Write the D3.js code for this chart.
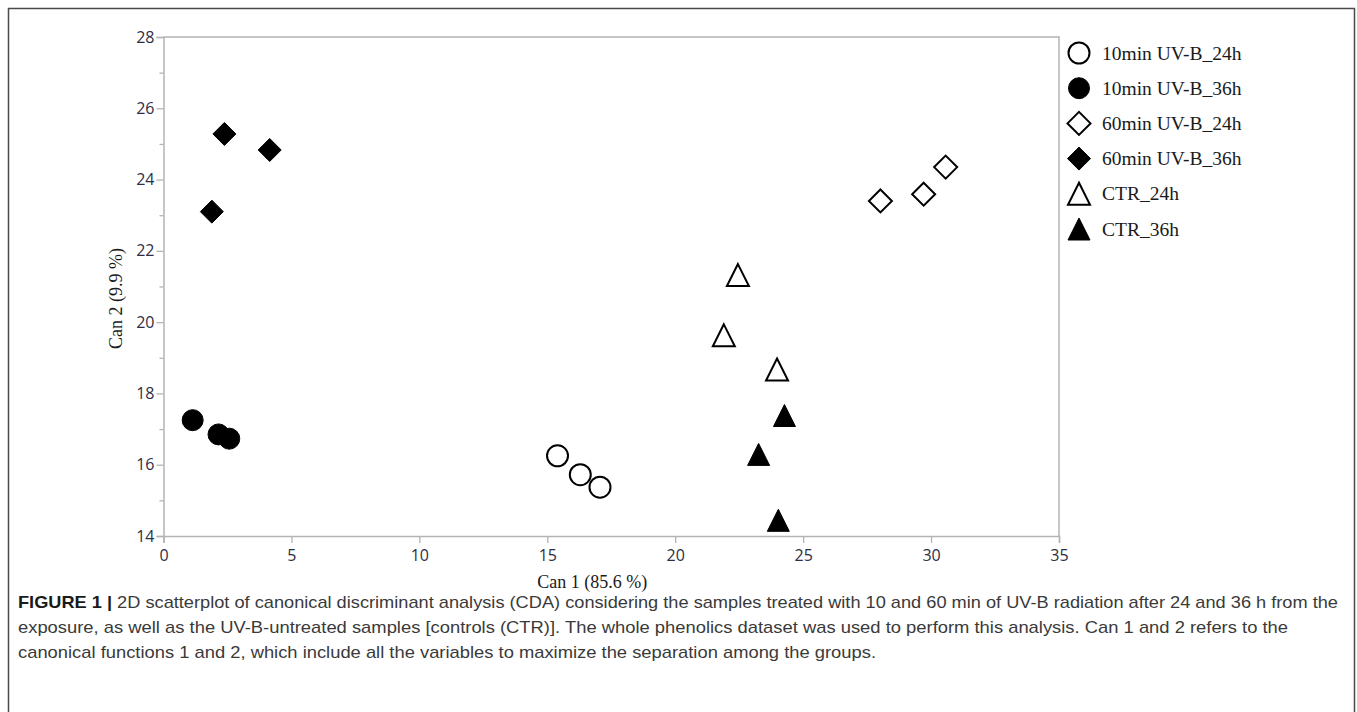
<!DOCTYPE html>
<html>
<head>
<meta charset="utf-8">
<script src="https://cdn.jsdelivr.net/npm/d3@7"></script>
<style>
  html, body { margin: 0; padding: 0; background: #fff; }
  svg { display: block; }
</style>
</head>
<body>
<svg id="fig" width="1357" height="712"></svg>
<script>
// Group names and their marker styles (shape, filled)
const groups = ["10min UV-B_24h", "10min UV-B_36h", "60min UV-B_24h", "60min UV-B_36h", "CTR_24h", "CTR_36h"];
const shapes = ["circle", "circle", "diamond", "diamond", "triangle", "triangle"];
const filled = [false, true, false, true, false, true];

// Canonical scores per group: Can 1 (x) and Can 2 (y)
const can1_10min_24h = [15.40, 16.29, 17.06];
const can2_10min_24h = [16.25, 15.72, 15.37];
const can1_10min_36h = [1.14, 2.15, 2.57];
const can2_10min_36h = [17.25, 16.85, 16.73];
const can1_60min_24h = [28.02, 29.71, 30.57];
const can2_60min_24h = [23.40, 23.59, 24.35];
const can1_60min_36h = [2.38, 4.15, 1.89];
const can2_60min_36h = [25.28, 24.83, 23.10];
const can1_ctr_24h = [22.45, 21.90, 23.98];
const can2_ctr_24h = [21.32, 19.63, 18.67];
const can1_ctr_36h = [24.27, 23.26, 24.03];
const can2_ctr_36h = [17.38, 16.29, 14.44];

const xTicks = [0, 5, 10, 15, 20, 25, 30, 35];
const yTicks = [14, 16, 18, 20, 22, 24, 26, 28];
const yMinorTicks = [15, 17, 19, 21, 23, 25, 27];

const xTitle = "Can 1 (85.6 %)";
const yTitle = "Can 2 (9.9 %)";

const captionLines = [
  ["FIGURE 1 | ", "2D scatterplot of canonical discriminant analysis (CDA) considering the samples treated with 10 and 60 min of UV-B radiation after 24 and 36 h from the"],
  ["", "exposure, as well as the UV-B-untreated samples [controls (CTR)]. The whole phenolics dataset was used to perform this analysis. Can 1 and 2 refers to the"],
  ["", "canonical functions 1 and 2, which include all the variables to maximize the separation among the groups."]
];

const seriesX = [can1_10min_24h, can1_10min_36h, can1_60min_24h, can1_60min_36h, can1_ctr_24h, can1_ctr_36h];
const seriesY = [can2_10min_24h, can2_10min_36h, can2_60min_24h, can2_60min_36h, can2_ctr_24h, can2_ctr_36h];

const svg = d3.select("#fig");

// Outer figure frame
svg.append("path")
  .attr("d", "M8.5,720 L8.5,8.5 L1354.5,8.5 L1354.5,720")
  .attr("fill", "none")
  .attr("stroke", "#4a4a4a")
  .attr("stroke-width", 1.5);

const plot = { left: 163.5, right: 1059, top: 37, bottom: 536 };

const x = d3.scaleLinear().domain([0, 35]).range([plot.left, plot.right]);
const y = d3.scaleLinear().domain([14, 28]).range([plot.bottom, plot.top]);

const axisColor = "#b4b4b4";
const tickTextColor = "#2e2e44";

// Plot frame (top and right edges)
svg.append("path")
  .attr("d", `M${plot.left},${plot.top} L${plot.right},${plot.top} L${plot.right},${plot.bottom}`)
  .attr("fill", "none")
  .attr("stroke", axisColor)
  .attr("stroke-width", 1.5);

// X axis
svg.append("g")
  .attr("transform", `translate(0,${plot.bottom})`)
  .call(d3.axisBottom(x).tickValues(xTicks).tickSize(7).tickPadding(7).tickFormat(d3.format("d")));
// Y axis
svg.append("g")
  .attr("transform", `translate(${plot.left},0)`)
  .call(d3.axisLeft(y).tickValues(yTicks).tickSize(7).tickPadding(2).tickFormat(d3.format("d")));
// Y minor ticks
svg.append("g")
  .attr("transform", `translate(${plot.left},0)`)
  .call(d3.axisLeft(y).tickValues(yMinorTicks).tickSize(4).tickFormat(""))
  .call(g => g.select(".domain").remove());

svg.selectAll(".domain").attr("stroke", axisColor).attr("stroke-width", 1.5);
svg.selectAll(".tick line").attr("stroke", axisColor).attr("stroke-width", 1.3);
svg.selectAll(".tick text")
  .attr("fill", tickTextColor)
  .attr("font-family", "'Open Sans', 'Noto Sans', sans-serif")
  .attr("font-size", 16);

// Axis titles
svg.append("text")
  .attr("x", (plot.left + plot.right) / 2 - 19)
  .attr("y", 588)
  .attr("text-anchor", "middle")
  .attr("font-family", "'Liberation Serif', 'Times New Roman', serif")
  .attr("font-size", 18)
  .attr("fill", "#1a1a1a")
  .text(xTitle);

svg.append("text")
  .attr("transform", `translate(122,${(plot.top + plot.bottom) / 2 + 12}) rotate(-90)`)
  .attr("text-anchor", "middle")
  .attr("font-family", "'Liberation Serif', 'Times New Roman', serif")
  .attr("font-size", 18)
  .attr("fill", "#1a1a1a")
  .text(yTitle);

// Marker path generators, centred on (0,0)
function markerPath(shape) {
  if (shape === "circle") {
    const r = 10.5;
    return `M${r},0 A${r},${r} 0 1,1 ${-r},0 A${r},${r} 0 1,1 ${r},0 Z`;
  }
  if (shape === "diamond") {
    const h = 11.5;
    return `M0,${-h} L${h},0 L0,${h} L${-h},0 Z`;
  }
  // triangle with its bounding box centred at the point
  const w = 11, hh = 11;
  return `M0,${-hh} L${w},${hh} L${-w},${hh} Z`;
}

function styleMarker(sel, i) {
  sel.attr("d", markerPath(shapes[i]))
    .attr("fill", filled[i] ? "#000" : "#fff")
    .attr("stroke", "#000")
    .attr("stroke-width", filled[i] ? 1 : 2)
    .attr("stroke-linejoin", "miter");
}

// Data points
groups.forEach((g, i) => {
  const pts = seriesX[i].map((v, j) => ({ cx: v, cy: seriesY[i][j] }));
  svg.append("g").selectAll("path")
    .data(pts)
    .join("path")
    .attr("transform", d => `translate(${x(d.cx)},${y(d.cy)})`)
    .call(s => styleMarker(s, i));
});

// Legend
const legend = svg.append("g").attr("transform", "translate(1079,53)");
groups.forEach((g, i) => {
  const row = legend.append("g").attr("transform", `translate(0,${i * 35.2})`);
  row.append("path").call(s => styleMarker(s, i));
  row.append("text")
    .attr("x", 23)
    .attr("y", 6.5)
    .attr("font-family", "'Liberation Serif', 'Times New Roman', serif")
    .attr("font-size", 19.5)
    .attr("fill", "#1a1a1a")
    .text(g);
});

// Caption
const capWidths = [1320, 1270, 858];
captionLines.forEach((parts, i) => {
  const t = svg.append("text")
    .attr("x", 18)
    .attr("y", 608 + i * 25)
    .attr("font-family", "'Liberation Sans Narrow', 'Liberation Sans', Arial, sans-serif")
    .attr("font-size", 17)
    .attr("fill", "#3a3a3a")
    .attr("textLength", capWidths[i])
    .attr("lengthAdjust", "spacingAndGlyphs");
  if (parts[0]) {
    t.append("tspan").attr("font-weight", "bold").attr("fill", "#1a1a1a").text(parts[0]);
  }
  t.append("tspan").text(parts[1]);
});
</script>
</body>
</html>
